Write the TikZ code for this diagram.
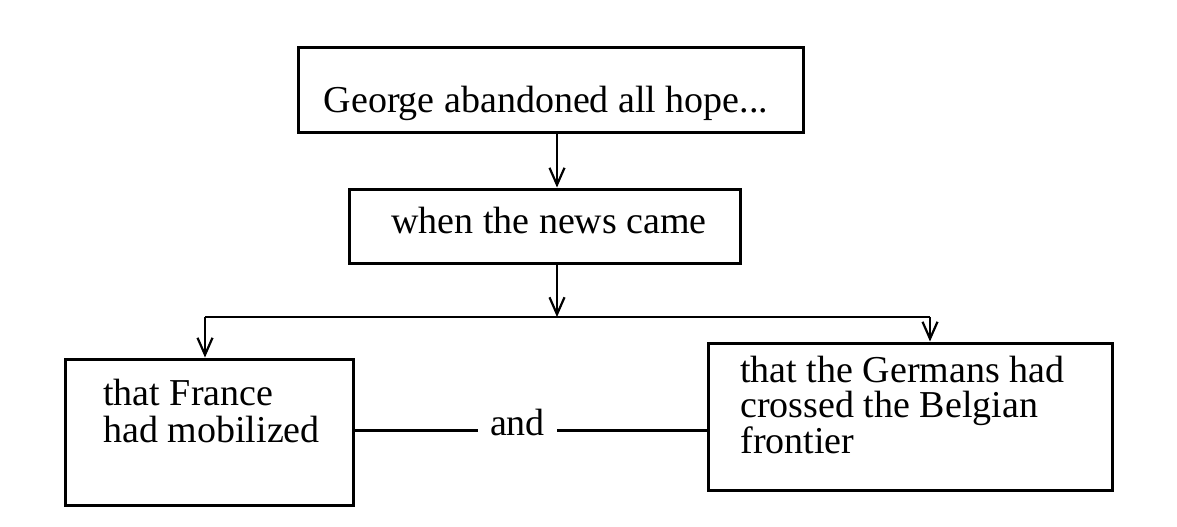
\documentclass[tikz,border=0pt]{standalone}
\usepackage{fontspec}
\setmainfont{Liberation Serif}
\usetikzlibrary{arrows.meta}
\begin{document}
\begin{tikzpicture}[x=0.5pt,y=-0.5pt,
  box/.style={draw, line width=1.5pt, rectangle, inner sep=0pt},
  txt/.style={inner sep=0pt, font=\fontsize{19}{22}\selectfont},
  conn/.style={line width=1.2pt},
  arr/.style={conn, -{Straight Barb[length=8.5pt,width=7.5pt,line width=1.1pt]}}
]
\useasboundingbox (0,0) rectangle (1177,526);
% boxes
\node[box, minimum width=252.5pt, minimum height=42.5pt] (top) at (550.5,89.5) {};
\node[box, minimum width=195.5pt, minimum height=37pt] (mid) at (544.5,226) {};
\node[box, minimum width=144pt, minimum height=73pt] (left) at (209,432) {};
\node[box, minimum width=202pt, minimum height=73.5pt] (right) at (910,416.5) {};
% texts
\node[txt, anchor=base] (ttop) at (546,112) {George abandoned all hope...};
\node[txt, anchor=base] (tmid) at (549,233) {when the news came};
\node[txt, anchor=base west] (tl1) at (103,405) {that France};
\node[txt, anchor=base west] (tl2) at (103,442) {had mobilized};
\node[txt, anchor=base west] (tr1) at (740,382) {that the Germans had};
\node[txt, anchor=base west] (tr2) at (740,417) {crossed the Belgian};
\node[txt, anchor=base west] (tr3) at (740,453) {frontier};
\node[txt, anchor=base, inner xsep=6pt] (and) at (517.5,435) {and};
% junctions
\coordinate (j) at (557,317);
\coordinate (bl) at (205,317);
\coordinate (br) at (930,317);
% connectors
\draw[arr] (top.south -| j) -- (mid.north -| j);
\draw[arr] (mid.south -| j) -- (j);
\draw[conn] (bl) -- (br);
\draw[arr] (bl) -- (left.north -| bl);
\draw[arr] (br) -- (right.north -| br);
\draw[conn] (left.east |- and.mid west) -- (and.mid west);
\draw[conn] (and.mid east) -- (right.west |- and.mid east);
\end{tikzpicture}
\end{document}
